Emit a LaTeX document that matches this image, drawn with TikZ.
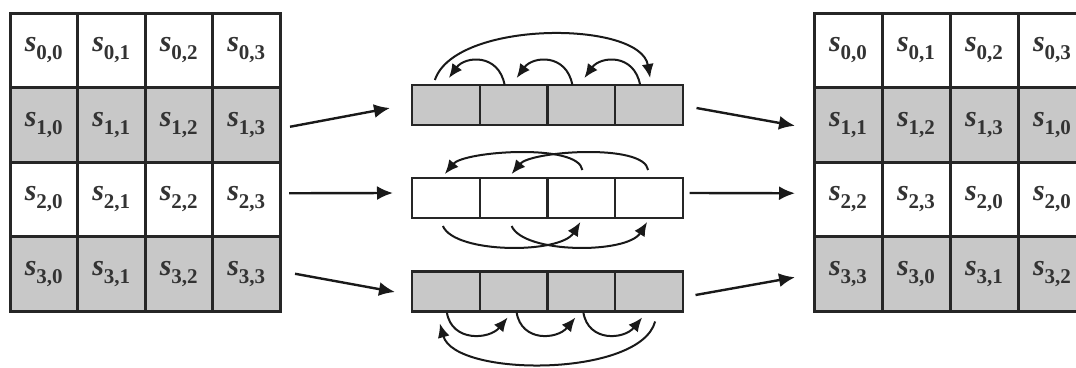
\documentclass[tikz,border=0pt]{standalone}
\usepackage{fontspec}
\setmainfont{Liberation Serif}
\usetikzlibrary{arrows.meta}
\definecolor{cellgray}{RGB}{200,200,200}
\newcommand{\sij}[2]{\textbf{\textit{s}}\raisebox{-8pt}{\fontsize{21}{21}\selectfont\textbf{#1,#2}}}
\tikzset{
  mcell/.style={draw=black!85, line width=3pt, minimum width=67.5pt, minimum height=74.5pt, inner sep=0pt, outer sep=0pt, font=\fontsize{30}{30}\selectfont, text=black!80},
  acell/.style={draw=black!85, line width=2.4pt, minimum width=67.75pt, minimum height=40pt, inner sep=0pt, outer sep=0pt},
  arr/.style={line width=2.4pt, draw=black!90, -{Latex[length=16pt,width=14pt]}},
  carr/.style={line width=2pt, draw=black!90, -{Latex[length=14pt,width=12pt]}}
}
\begin{document}
\begin{tikzpicture}[x=1pt,y=-1pt]
\path[use as bounding box] (0,0) rectangle (1076,367);
\clip (0,0) rectangle (1076,367);
\fill[white] (0,0) rectangle (1076,367);
% left matrix
\foreach \r/\f in {0/white,1/cellgray,2/white,3/cellgray}{
  \foreach \c in {0,1,2,3}{
    \node[mcell, fill=\f] (L\r\c) at (10+33.75+67.5*\c, 13+37.25+74.5*\r) {\sij{\r}{\c}};
  }
}
% right matrix
\foreach \r/\f/\ja/\jb/\jc/\jd in {0/white/0/1/2/3, 1/cellgray/1/2/3/0, 2/white/2/3/0/0, 3/cellgray/3/0/1/2}{
  \foreach \c/\j in {0/\ja,1/\jb,2/\jc,3/\jd}{
    \node[mcell, minimum width=68pt, fill=\f] (R\r\c) at (814+34+68*\c, 13+37.25+74.5*\r) {\sij{\r}{\j}};
  }
}
% middle arrays
\foreach \r/\f/\y in {1/cellgray/105, 2/white/198, 3/cellgray/291.5}{
  \foreach \c in {0,1,2,3}{
    \node[acell, fill=\f] (A\r\c) at (412+33.875+67.75*\c, \y) {};
  }
}
% straight arrows left -> arrays
\draw[arr] ([shift={(10,2)}]L13.east) -- ([shift={(-22,3)}]A10.west);
\draw[arr] ([shift={(9,-6)}]L23.east) -- ([shift={(-19,-5)}]A20.west);
\draw[arr] ([shift={(15,0)}]L33.east) -- ([shift={(-17,0.5)}]A30.west);
% straight arrows arrays -> right
\draw[arr] ([shift={(13.5,3)}]A13.east) -- ([shift={(-19,1)}]R10.west);
\draw[arr] ([shift={(6.5,-5)}]A23.east) -- ([shift={(-19,-6)}]R20.west);
\draw[arr] ([shift={(12.5,3.5)}]A33.east) -- ([shift={(-19,3.5)}]R30.west);
% array 1: rotate left by one
\draw[carr] ([shift={(-9,0)}]A11.north) .. controls +(-6,-32) and +(16,-22) .. ([shift={(3,-7)}]A10.north);
\draw[carr] ([shift={(-9,0)}]A12.north) .. controls +(-6,-32) and +(16,-22) .. ([shift={(3,-7)}]A11.north);
\draw[carr] ([shift={(-9,0)}]A13.north) .. controls +(-6,-32) and +(16,-22) .. ([shift={(3,-7)}]A12.north);
\draw[carr] ([shift={(-11,-5)}]A10.north) .. controls +(20,-60) and +(-10,-58) .. ([shift={(1,-7)}]A13.north);
% array 2: rotate by two
\draw[carr] ([shift={(1,-8)}]A22.north) .. controls +(-4,-27) and +(19,-23) .. ([shift={(-1,-4)}]A20.north);
\draw[carr] ([shift={(-1,-8)}]A23.north) .. controls +(-4,-27) and +(19,-23) .. ([shift={(-2,-4)}]A21.north);
\draw[carr] ([shift={(-3,8)}]A20.south) .. controls +(12,28) and +(-20,32) .. ([shift={(-1,4)}]A22.south);
\draw[carr] ([shift={(-2,8)}]A21.south) .. controls +(12,28) and +(-20,32) .. ([shift={(-2,4)}]A23.south);
% array 3: rotate right by one
\draw[carr] ([shift={(1,1)}]A30.south) .. controls +(5,30) and +(-18,22) .. ([shift={(-6,6)}]A31.south);
\draw[carr] ([shift={(3,1)}]A31.south) .. controls +(5,30) and +(-18,22) .. ([shift={(-6,6)}]A32.south);
\draw[carr] ([shift={(2,1)}]A32.south) .. controls +(5,30) and +(-18,22) .. ([shift={(-7,6)}]A33.south);
\draw[carr] ([shift={(6,10)}]A33.south) .. controls +(-15,56) and +(15,54) .. ([shift={(-6,12)}]A30.south);
\end{tikzpicture}
\end{document}
